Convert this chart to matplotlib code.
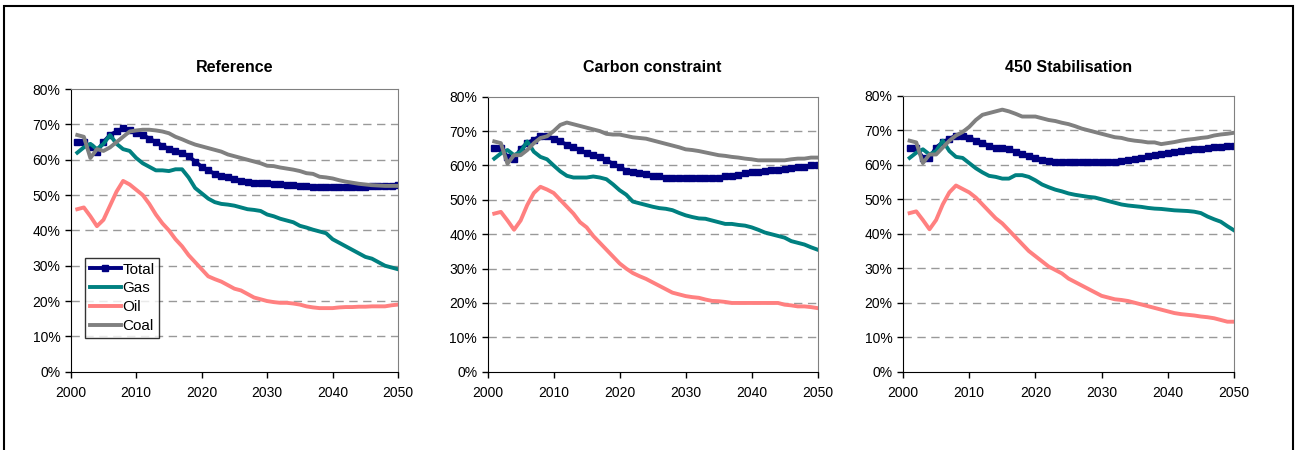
import numpy as np
import matplotlib.pyplot as plt
from matplotlib.patches import Rectangle
from matplotlib.ticker import PercentFormatter

years = list(range(2001, 2051))

titles = ['Reference', 'Carbon constraint', '450 Stabilisation']

# share (%) by scenario, one value per year 2001-2050
ref_total = [65, 65, 63.7, 62.3, 65, 67, 68, 68.9, 68.3, 67.5,
             67, 66, 65, 64, 63, 62.5, 62, 61, 59.5, 58,
             57, 56, 55.5, 55, 54.5, 54, 53.8, 53.5, 53.5, 53.3,
             53.2, 53, 52.8, 52.8, 52.6, 52.5, 52.3, 52.2, 52.2, 52.2,
             52.2, 52.3, 52.3, 52.4, 52.4, 52.5, 52.5, 52.6, 52.7, 52.8]
ref_gas = [62, 63.5, 64.5, 63, 64.5, 67, 64.5, 63, 62.5, 60.5,
           59, 58, 57, 57, 56.8, 57.3, 57.3, 55, 52, 50.5,
           49, 48, 47.5, 47.3, 47, 46.5, 46, 45.8, 45.5, 44.5,
           44, 43.3, 42.8, 42.3, 41.3, 40.8, 40.2, 39.7, 39.2, 37.5,
           36.5, 35.5, 34.5, 33.5, 32.5, 32, 31, 30, 29.5, 29]
ref_oil = [46, 46.5, 44, 41.2, 43, 47, 51, 54, 53, 51.5,
           50, 47.5, 44.5, 42, 40, 37.5, 35.5, 33, 31, 29,
           27, 26.2, 25.5, 24.5, 23.5, 23, 22, 21, 20.5, 20,
           19.7, 19.5, 19.5, 19.3, 19, 18.5, 18.2, 18, 18, 18,
           18.2, 18.3, 18.3, 18.4, 18.4, 18.5, 18.5, 18.5, 18.8, 19]
ref_coal = [67, 66.5, 60.5, 63, 62.5, 63.5, 65, 66.5, 68, 68.3,
            68.5, 68.5, 68.3, 68, 67.5, 66.5, 65.8, 65, 64.3, 63.8,
            63.3, 62.8, 62.3, 61.5, 61, 60.5, 60, 59.5, 59, 58.3,
            58.2, 57.8, 57.5, 57.2, 56.8, 56.2, 56, 55.2, 55, 54.7,
            54.2, 53.8, 53.5, 53.2, 53, 52.8, 52.7, 52.6, 52.6, 52.6]

cc_total = [65, 65, 62.5, 61.8, 64.8, 66.5, 67.5, 68.5, 68.5, 67.8,
            67, 66, 65.3, 64.5, 63.5, 63, 62.5, 61.5, 60.5, 59.5,
            58.5, 58, 57.8, 57.5, 57, 56.8, 56.5, 56.3, 56.3, 56.3,
            56.3, 56.3, 56.3, 56.3, 56.5, 56.8, 57, 57.3, 57.7, 58,
            58.2, 58.4, 58.6, 58.8, 59, 59.3, 59.5, 59.7, 60, 60.2]
cc_gas = [62, 63.5, 64.5, 63, 64, 67, 64, 62.5, 61.8, 60,
          58.3, 57, 56.5, 56.5, 56.5, 56.8, 56.5, 56, 54.5, 52.8,
          51.5, 49.5, 49, 48.5, 48, 47.6, 47.4, 47, 46.2, 45.5,
          45, 44.6, 44.5, 44, 43.5, 43, 43, 42.7, 42.5, 42,
          41.3, 40.5, 40, 39.5, 39, 38, 37.5, 37, 36.2, 35.5]
cc_oil = [46, 46.5, 44, 41.3, 44, 48.5, 52, 53.8, 53, 52,
          50, 48, 46, 43.5, 42, 39.5, 37.5, 35.5, 33.5, 31.5,
          30, 28.7, 27.8, 27, 26, 25, 24, 23, 22.5, 22,
          21.7, 21.5, 21, 20.6, 20.5, 20.3, 20, 20, 20, 20,
          20, 20, 20, 20, 19.5, 19.3, 19, 19, 18.8, 18.5]
cc_coal = [67, 66.5, 60.5, 63, 63, 64.5, 66.5, 68, 68.5, 70,
           71.8, 72.5, 72, 71.5, 71, 70.5, 70, 69.2, 69, 69,
           68.6, 68.2, 68, 67.8, 67.3, 66.8, 66.3, 65.8, 65.3, 64.7,
           64.5, 64.2, 63.8, 63.4, 63, 62.8, 62.5, 62.3, 62, 61.8,
           61.5, 61.5, 61.5, 61.5, 61.5, 61.8, 62, 62, 62.3, 62.3]

st_total = [65, 65, 62, 62, 65, 66.5, 67.5, 68.5, 68.3, 67.8,
            67, 66.3, 65.5, 65, 64.8, 64.5, 63.8, 63, 62.5, 62,
            61.5, 61, 60.8, 60.8, 60.8, 60.8, 60.8, 60.8, 60.8, 60.8,
            60.8, 60.8, 61.2, 61.5, 61.7, 62, 62.5, 62.8, 63.2, 63.5,
            63.8, 64, 64.3, 64.5, 64.7, 65, 65.2, 65.3, 65.4, 65.5]
st_gas = [62, 63.5, 64.5, 63, 64, 67, 64, 62.3, 62, 60.5,
          59, 57.8, 56.8, 56.5, 56, 56, 57, 57, 56.5, 55.5,
          54.3, 53.5, 52.8, 52.3, 51.7, 51.3, 51, 50.7, 50.5, 50,
          49.5, 49, 48.5, 48.2, 48, 47.8, 47.5, 47.3, 47.2, 47,
          46.8, 46.7, 46.6, 46.4, 46, 45, 44.2, 43.5, 42.2, 41]
st_oil = [46, 46.5, 44, 41.3, 44, 48.5, 52, 54, 53, 52,
          50.5, 48.5, 46.5, 44.5, 43, 41, 39, 37, 35, 33.5,
          32, 30.5, 29.5, 28.5, 27, 26, 25, 24, 23, 22,
          21.5, 21, 20.8, 20.5, 20, 19.5, 19, 18.5, 18, 17.5,
          17, 16.7, 16.5, 16.3, 16, 15.8, 15.5, 15, 14.5, 14.5]
st_coal = [67, 66.5, 60.5, 63, 63, 65, 67, 68.5, 69.5, 71,
           73, 74.5, 75, 75.5, 76, 75.5, 74.8, 74, 74, 74,
           73.5, 73, 72.7, 72.2, 71.8, 71.2, 70.5, 70, 69.5, 69,
           68.5, 68, 67.8, 67.3, 67, 66.8, 66.5, 66.5, 66, 66.3,
           66.6, 67, 67.3, 67.5, 67.8, 68, 68.5, 68.8, 69, 69.3]

scenarios = [
    (ref_total, ref_gas, ref_oil, ref_coal),
    (cc_total, cc_gas, cc_oil, cc_coal),
    (st_total, st_gas, st_oil, st_coal),
]

plt.rcParams['font.family'] = ['Liberation Sans Narrow', 'Liberation Sans', 'DejaVu Sans']

fig = plt.figure(figsize=(12.98, 4.5), dpi=100)

# axes boxes in figure fractions
boxes = [
    [0.0545, 0.174, 0.2522, 0.628],
    [0.3757, 0.174, 0.2542, 0.611],
    [0.6957, 0.174, 0.2550, 0.613],
]

for i, (box, data) in enumerate(zip(boxes, scenarios)):
    ax = fig.add_axes(box)
    total, gas, oil, coal = data
    ax.plot(years, total, color='#000080', lw=2.8, marker='s', ms=5, label='Total')
    ax.plot(years, gas, color='#008080', lw=2.8, label='Gas')
    ax.plot(years, oil, color='#FF8080', lw=2.8, label='Oil')
    ax.plot(years, coal, color='#808080', lw=2.8, label='Coal')

    ax.set_xlim(2000, 2050)
    ax.set_ylim(0, 80)
    ax.set_xticks(range(2000, 2051, 10))
    ax.set_yticks(range(0, 81, 10))
    ax.yaxis.set_major_formatter(PercentFormatter(decimals=0))
    for y in range(10, 80, 10):
        ax.axhline(y, color='#999999', lw=1, ls=(0, (6, 4)), zorder=0)
    ax.tick_params(labelsize=10, length=4, width=1, direction='out')
    ax.spines['left'].set_color('black')
    ax.spines['bottom'].set_color('black')
    ax.spines['top'].set_color('#808080')
    ax.spines['right'].set_color('#808080')
    ax.tick_params(axis='x', pad=6)

    cx = box[0] + box[2] / 2
    fig.text(cx, 0.851, titles[i], ha='center', va='center',
             fontsize=11.5, fontweight='bold')

    if i == 0:
        leg = ax.legend(loc='lower left', bbox_to_anchor=(0.045, 0.12),
                        fontsize=11, frameon=True, fancybox=False,
                        handlelength=2.0, handletextpad=0.1,
                        borderpad=0.3, labelspacing=0.32, borderaxespad=0)
        leg.get_frame().set_edgecolor('black')
        leg.get_frame().set_linewidth(1)

# outer border
fig.patches.append(Rectangle((0.003, -0.02), 0.993, 1.007, transform=fig.transFigure,
                             fill=False, edgecolor='black', lw=1.5, clip_on=False))

fig.savefig('out.png', dpi=100)
